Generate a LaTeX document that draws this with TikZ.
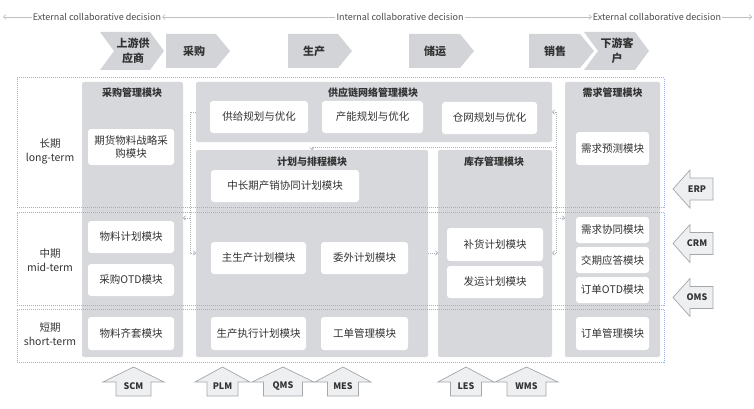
\documentclass[tikz,border=0pt]{standalone}
\usepackage{fontspec}
\setmainfont{Noto Sans CJK SC}
\usetikzlibrary{arrows.meta}
\definecolor{colgray}{HTML}{D6D8DC}
\definecolor{chev}{HTML}{D2D4D8}
\definecolor{rowblue}{HTML}{94AEF0}
\definecolor{conngray}{HTML}{AEB2B8}
\definecolor{txt}{HTML}{333333}
\definecolor{arrfill}{HTML}{EEEFF1}
\definecolor{arrdraw}{HTML}{A3A6AB}
\definecolor{lineg}{HTML}{BDBFC3}
\definecolor{toptxt}{HTML}{4A4A4A}
\newcommand\myup[5]{%
  \path[sysarr] (#1,367) -- (#1+#2,382) -- (#1+#3,382) -- (#1+#3,396) -- (#1-#3,396) -- (#1-#3,382) -- (#1-#2,382) -- cycle;
  \node[systxt] (#4) at (#1,386.5) {#5};}
\newcommand\myleft[3]{%
  \path[sysarr] (673,#1) -- (690,#1-19) -- (690,#1-11) -- (713,#1-11) -- (713,#1+11) -- (690,#1+11) -- (690,#1+19) -- cycle;
  \node[systxt] (#2) at (697,#1) {#3};}
\begin{document}
\begin{tikzpicture}[x=1pt,y=-1pt,
  col/.style={fill=colgray,draw=none,rounded corners=2pt,inner sep=0pt,outer sep=0pt},
  wbox/.style={fill=white,rounded corners=3pt,inner sep=0pt,outer sep=0pt,text=txt,align=center,font=\fontsize{10.5}{13.5}\selectfont},
  title/.style={text=txt,font=\bfseries\fontsize{10}{12}\selectfont},
  rowbox/.style={draw=rowblue,line width=1pt,dash pattern=on 1pt off 1pt,inner sep=0pt,outer sep=0pt},
  rowlab/.style={text=txt,align=center,font=\fontsize{10.5}{14}\selectfont},
  conn/.style={draw=conngray,line width=0.6pt,dash pattern=on 1pt off 1pt,-{Straight Barb[length=2.2pt,width=4.5pt]}},
  connl/.style={draw=conngray,line width=0.6pt,dash pattern=on 1pt off 1pt},
  chevtxt/.style={text=txt,align=center,font=\bfseries\fontsize{11}{15}\selectfont},
  toptxt/.style={text=toptxt,font=\fontsize{9}{11}\selectfont,inner sep=1pt},
  topline/.style={draw=lineg,line width=0.6pt,-{Straight Barb[length=2.5pt,width=5pt]}},
  sysarr/.style={fill=arrfill,draw=arrdraw,line width=0.7pt,line join=miter},
  systxt/.style={text=txt,font=\bfseries\fontsize{9}{11}\selectfont,inner sep=0pt}]
\useasboundingbox (0,0) rectangle (754,409);
% top decision line
\node[toptxt] (ext1) at (97,17) {External collaborative decision};
\node[toptxt] (intc) at (400,17) {Internal collaborative decision};
\node[toptxt] (ext2) at (657,17) {External collaborative decision};
\draw[topline] (ext1.west) -- (3,17);
\draw[topline] (intc.west) -- (ext1.east);
\draw[topline] (intc.east) -- (ext2.west);
\draw[topline] (ext2.east) -- (752,17);
% chevrons
\fill[chev] (100,32) -- (150,32) -- (164,51) -- (150,70) -- (100,70) -- (114,51) -- cycle;
\node[chevtxt] (up) at (133,51) {上游供\\应商};
\fill[chev] (166,34) -- (216,34) -- (230,51) -- (216,68) -- (166,68) -- cycle;
\node[chevtxt] (cg) at (194,51) {采购};
\fill[chev] (288,34) -- (338,34) -- (352,51) -- (338,68) -- (288,68) -- cycle;
\node[chevtxt] (sc) at (314,51) {生产};
\fill[chev] (409,34) -- (460,34) -- (474,51) -- (460,68) -- (409,68) -- cycle;
\node[chevtxt] (cy) at (435,51) {储运};
\fill[chev] (529,34) -- (580,34) -- (594,51) -- (580,68) -- (529,68) -- cycle;
\node[chevtxt] (xs) at (555,51) {销售};
\fill[chev] (584,32) -- (635,32) -- (649,51) -- (635,70) -- (584,70) -- (598,51) -- cycle;
\node[chevtxt] (down) at (617,51) {下游客\\户};
% gray columns
\node[col,minimum width=101pt,minimum height=275pt] (cgcol) at (132.5,219.5) {};
\node[col,minimum width=356pt,minimum height=60pt] (scn) at (374,112) {};
\node[col,minimum width=232pt,minimum height=207pt] (plan) at (312,253.5) {};
\node[col,minimum width=114pt,minimum height=207pt] (inv) at (495,253.5) {};
\node[col,minimum width=95pt,minimum height=275pt] (dem) at (612.5,219.5) {};
% titles
\node[title] (t1) at (132,93) {采购管理模块};
\node[title] (t2) at (373,93) {供应链网络管理模块};
\node[title] (t3) at (312,162) {计划与排程模块};
\node[title] (t4) at (494,162) {库存管理模块};
\node[title] (t5) at (612.5,93) {需求管理模块};
% white boxes
\node[wbox,minimum width=86pt,minimum height=36pt] (fut) at (131,147) {期货物料战略采\\购模块};
\node[wbox,minimum width=98pt,minimum height=32pt] (gj) at (259,117) {供给规划与优化};
\node[wbox,minimum width=101pt,minimum height=32pt] (cn) at (372.5,117) {产能规划与优化};
\node[wbox,minimum width=95pt,minimum height=32pt] (cw) at (489.5,118) {仓网规划与优化};
\node[wbox,minimum width=73pt,minimum height=33pt] (xqyc) at (612.5,148.5) {需求预测模块};
\node[wbox,minimum width=148pt,minimum height=32pt] (zcq) at (285,186) {中长期产销协同计划模块};
\node[wbox,minimum width=86pt,minimum height=32pt] (wljh) at (131,237) {物料计划模块};
\node[wbox,minimum width=86pt,minimum height=32pt] (cgotd) at (131,280) {采购OTD模块};
\node[wbox,minimum width=95pt,minimum height=32pt] (zsc) at (258.5,258) {主生产计划模块};
\node[wbox,minimum width=87pt,minimum height=32pt] (wwjh) at (364.5,258) {委外计划模块};
\node[wbox,minimum width=86pt,minimum height=33pt] (wlqt) at (131,333.5) {物料齐套模块};
\node[wbox,minimum width=95pt,minimum height=33pt] (scjx) at (258.5,333.5) {生产执行计划模块};
\node[wbox,minimum width=87pt,minimum height=33pt] (gdgl) at (364.5,333.5) {工单管理模块};
\node[wbox,minimum width=96pt,minimum height=33pt] (bhjh) at (495,244.5) {补货计划模块};
\node[wbox,minimum width=96pt,minimum height=32pt] (fyjh) at (495,282) {发运计划模块};
\node[wbox,minimum width=73pt,minimum height=26pt] (xqxt) at (612.5,230) {需求协同模块};
\node[wbox,minimum width=73pt,minimum height=26pt] (jqyd) at (612.5,260) {交期应答模块};
\node[wbox,minimum width=73pt,minimum height=26pt] (ddotd) at (612.5,290) {订单OTD模块};
\node[wbox,minimum width=73pt,minimum height=33pt] (ddgl) at (612.5,333.5) {订单管理模块};
% connectors
\coordinate (L1) at (190,112);
\coordinate (L2) at (190,218);
\coordinate (L3) at (190,253);
\draw[conn] (scn.west) -- (L1) -- (L3) -- (plan.west |- L3);
\draw[conn] (L2) -- (cgcol.east |- L2);
\draw[conn] (plan.east |- L3) -- (inv.west |- L3);
\coordinate (R1) at (556,112);
\coordinate (R2) at (556,147);
\coordinate (R3) at (556,218);
\coordinate (R4) at (556,253);
\coordinate (D1) at (312,147);
\draw[connl] (R1) -- (R4);
\draw[conn] (R1) -- (scn.east);
\draw[conn] (R3) -- (dem.west |- R3);
\draw[conn] (R4) -- (inv.east |- R4);
\draw[conn] (R2) -- (D1) -- (plan.north);
% dotted rows
\node[rowbox,minimum width=647pt,minimum height=129pt] (rlong) at (340.5,142.5) {};
\node[rowbox,minimum width=647pt,minimum height=93pt] (rmid) at (340.5,258.5) {};
\node[rowbox,minimum width=647pt,minimum height=53pt] (rshort) at (340.5,335.5) {};
\node[rowlab] (l1) at (50,151) {长期\\long-term};
\node[rowlab] (l2) at (50,260) {中期\\mid-term};
\node[rowlab] (l3) at (50,334.5) {短期\\short-term};
% system arrows
\myleft{189}{erp}{ERP}
\myleft{243.5}{crm}{CRM}
\myleft{297.5}{oms}{OMS}
\myup{133.5}{30.5}{17.5}{scm}{SCM}
\myup{222.5}{27.5}{15.5}{plm}{PLM}
\myup{283}{31}{19.5}{qms}{QMS}
\myup{343}{28}{15.5}{mes}{MES}
\myup{466}{28}{15.5}{les}{LES}
\myup{526.5}{31.5}{19.5}{wms}{WMS}
\end{tikzpicture}
\end{document}
